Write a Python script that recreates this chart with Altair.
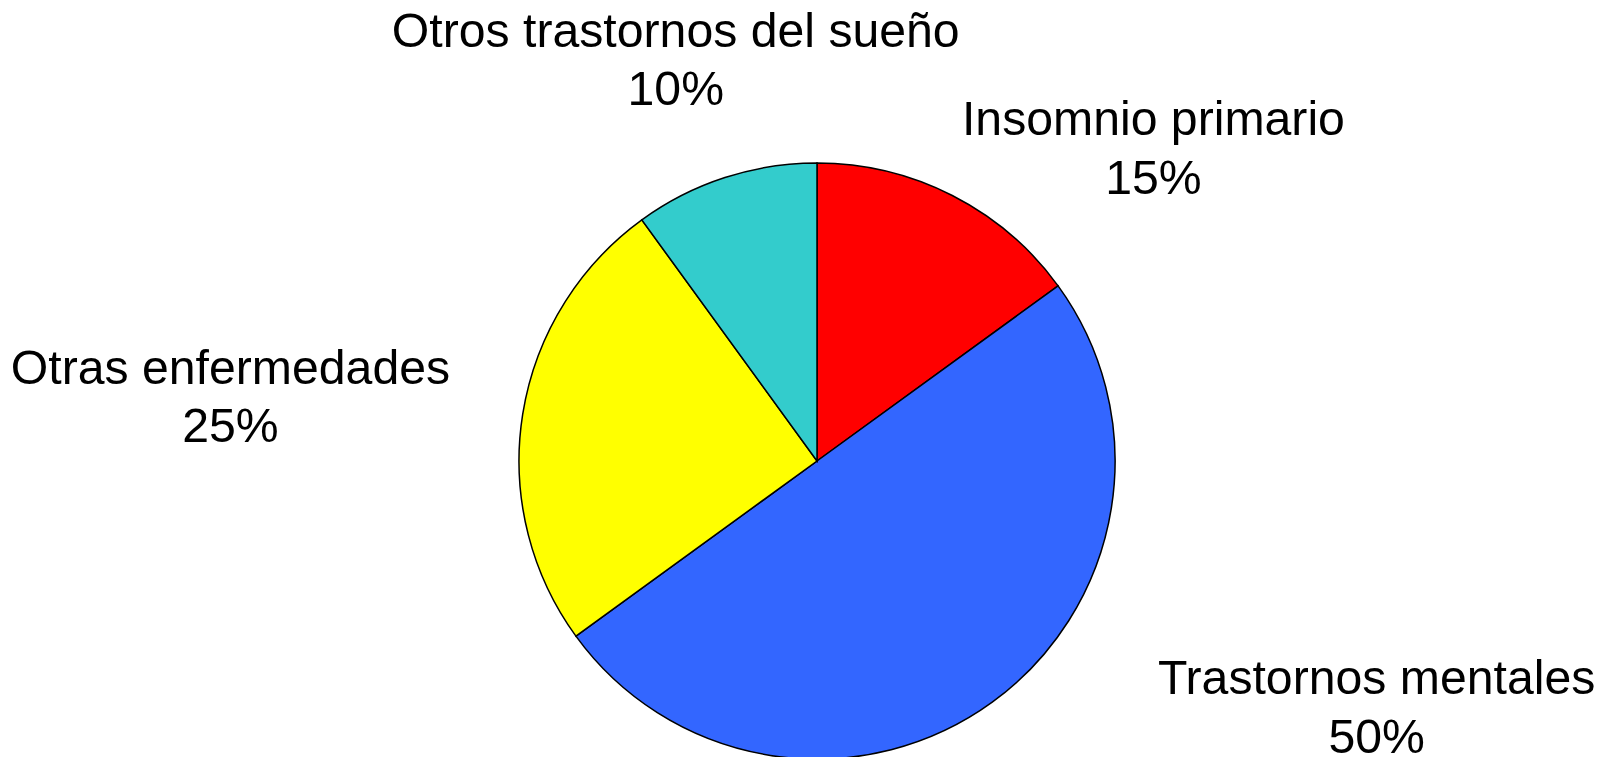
import altair as alt
import pandas as pd

categories = ["Insomnio primario", "Trastornos mentales", "Otras enfermedades", "Otros trastornos del sueño"]
values = [15, 50, 25, 10]
colors = ["#FF0000", "#3366FF", "#FFFF00", "#33CCCC"]

# layout (not data): pie centre, radius, label radius and per-label nudges
CX, CY, R = 809, 453, 298
LABEL_R = 360
nudges = {
    "Insomnio primario": (173, -19),
    "Trastornos mentales": (348, -72),
    "Otras enfermedades": (-231, -35),
    "Otros trastornos del sueño": (-30, -86),
}

df = pd.DataFrame({"category": categories, "value": values, "idx": list(range(len(categories)))})

base = alt.Chart(df).encode(
    theta=alt.Theta("value:Q", stack=True),
    order=alt.Order("idx:Q"),
    x=alt.value(CX),
    y=alt.value(CY),
).transform_calculate(
    label="datum.category + '\\n' + format(datum.value, 'd') + '%'"
)

pie = base.mark_arc(outerRadius=R, stroke="black", strokeWidth=1.5).encode(
    color=alt.Color("category:N", scale=alt.Scale(domain=categories, range=colors), legend=None)
)

layers = [pie]
for cat in categories:
    dx, dy = nudges[cat]
    layers.append(
        base.mark_text(
            radius=LABEL_R, font="Liberation Sans", fontSize=48.2, lineBreak="\n",
            lineHeight=58.5, align="center", baseline="middle", color="black", dx=dx, dy=dy,
        ).encode(text="label:N", opacity=alt.condition(f"datum.category == '{cat}'", alt.value(1), alt.value(0)))
    )

chart = alt.layer(*layers).properties(
    width=1589, height=749, autosize=alt.AutoSizeParams(type="none"), padding=0
).configure_view(stroke=None)

chart.save("out.html", embed_options={"renderer": "svg", "actions": False})
